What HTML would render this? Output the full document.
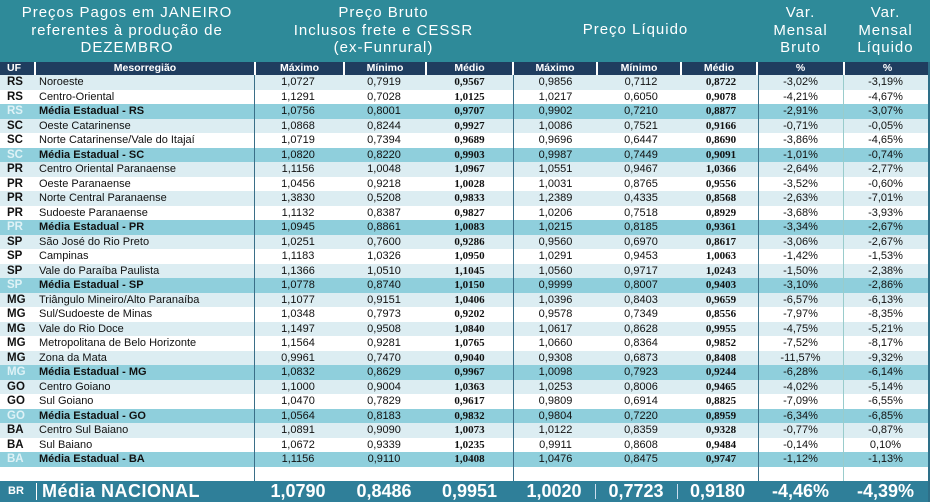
<!DOCTYPE html>
<html><head><meta charset="utf-8"><style>
*{margin:0;padding:0;box-sizing:border-box}
body{width:930px;height:502px;background:#fff;font-family:"Liberation Sans",Arial,sans-serif;position:relative;overflow:hidden}
.hdr{position:absolute;left:0;top:0;width:930px;height:62px;background:#2e8a99}
.ht{position:absolute;color:#fff;font-size:15px;text-align:center;line-height:17.5px;letter-spacing:1px;top:4px}
.row{position:absolute;left:0;width:928px;height:14.5px;font-size:11px;line-height:14.5px;color:#111}
.c{position:absolute;top:0;height:100%;text-align:center}
.uf{left:0;width:36px;font-weight:bold;text-align:left;padding-left:7px;font-size:11.5px}
.nm{left:39px;width:215px;text-align:left}
.b{font-family:"Liberation Serif",serif;font-weight:bold}
.L{background:#dcedf2}.W{background:#fff}.M{background:#8fcfdc}
.M .uf{color:#dff2f6}.M .nm{font-weight:bold}
.vl{position:absolute;width:1px;background:#3a6f88;top:75px;height:406px}
.ch{position:absolute;top:62px;height:13px;background:#1f3d5f;color:#fff;font-size:10.5px;font-weight:bold;line-height:13px;text-align:center}
.br{position:absolute;left:0;top:481px;width:928px;height:21px;background:#2f7f99;color:#fff;font-weight:bold;font-size:18px;line-height:21px}
</style></head><body>
<div class="hdr">
<div class="ht" style="left:0;width:254px">Preços Pagos em JANEIRO<br>referentes à produção de<br>DEZEMBRO</div>
<div class="ht" style="left:254px;width:259px">Preço Bruto<br>Inclusos frete e CESSR<br>(ex-Funrural)</div>
<div class="ht" style="left:513px;width:245px;top:21px">Preço Líquido</div>
<div class="ht" style="left:758px;width:85px">Var.<br>Mensal<br>Bruto</div>
<div class="ht" style="left:843px;width:85px">Var.<br>Mensal<br>Líquido</div>
</div>
<div style="position:absolute;left:0;top:62px;width:930px;height:13px;background:#fff"></div>
<div class="ch" style="left:0;width:34px;text-align:left;padding-left:7px">UF</div>
<div class="ch" style="left:36px;width:218px">Mesorregião</div>
<div class="ch" style="left:256px;width:87px">Máximo</div>
<div class="ch" style="left:345px;width:80px">Mínimo</div>
<div class="ch" style="left:427px;width:85px">Médio</div>
<div class="ch" style="left:514px;width:82px">Máximo</div>
<div class="ch" style="left:598px;width:82px">Mínimo</div>
<div class="ch" style="left:682px;width:74px">Médio</div>
<div class="ch" style="left:758px;width:85px">%</div>
<div class="ch" style="left:845px;width:85px">%</div>
<div id="rows"></div>
<script>
var d=[
["L","RS","Noroeste","1,0727","0,7919","0,9567","0,9856","0,7112","0,8722","-3,02%","-3,19%"],
["W","RS","Centro-Oriental","1,1291","0,7028","1,0125","1,0217","0,6050","0,9078","-4,21%","-4,67%"],
["M","RS","Média Estadual - RS","1,0756","0,8001","0,9707","0,9902","0,7210","0,8877","-2,91%","-3,07%"],
["L","SC","Oeste Catarinense","1,0868","0,8244","0,9927","1,0086","0,7521","0,9166","-0,71%","-0,05%"],
["W","SC","Norte Catarinense/Vale do Itajaí","1,0719","0,7394","0,9689","0,9696","0,6447","0,8690","-3,86%","-4,65%"],
["M","SC","Média Estadual - SC","1,0820","0,8220","0,9903","0,9987","0,7449","0,9091","-1,01%","-0,74%"],
["L","PR","Centro Oriental Paranaense","1,1156","1,0048","1,0967","1,0551","0,9467","1,0366","-2,64%","-2,77%"],
["W","PR","Oeste Paranaense","1,0456","0,9218","1,0028","1,0031","0,8765","0,9556","-3,52%","-0,60%"],
["L","PR","Norte Central Paranaense","1,3830","0,5208","0,9833","1,2389","0,4335","0,8568","-2,63%","-7,01%"],
["W","PR","Sudoeste Paranaense","1,1132","0,8387","0,9827","1,0206","0,7518","0,8929","-3,68%","-3,93%"],
["M","PR","Média Estadual - PR","1,0945","0,8861","1,0083","1,0215","0,8185","0,9361","-3,34%","-2,67%"],
["L","SP","São José do Rio Preto","1,0251","0,7600","0,9286","0,9560","0,6970","0,8617","-3,06%","-2,67%"],
["W","SP","Campinas","1,1183","1,0326","1,0950","1,0291","0,9453","1,0063","-1,42%","-1,53%"],
["L","SP","Vale do Paraíba Paulista","1,1366","1,0510","1,1045","1,0560","0,9717","1,0243","-1,50%","-2,38%"],
["M","SP","Média Estadual - SP","1,0778","0,8740","1,0150","0,9999","0,8007","0,9403","-3,10%","-2,86%"],
["L","MG","Triângulo Mineiro/Alto Paranaíba","1,1077","0,9151","1,0406","1,0396","0,8403","0,9659","-6,57%","-6,13%"],
["W","MG","Sul/Sudoeste de Minas","1,0348","0,7973","0,9202","0,9578","0,7349","0,8556","-7,97%","-8,35%"],
["L","MG","Vale do Rio Doce","1,1497","0,9508","1,0840","1,0617","0,8628","0,9955","-4,75%","-5,21%"],
["W","MG","Metropolitana de Belo Horizonte","1,1564","0,9281","1,0765","1,0660","0,8364","0,9852","-7,52%","-8,17%"],
["L","MG","Zona da Mata","0,9961","0,7470","0,9040","0,9308","0,6873","0,8408","-11,57%","-9,32%"],
["M","MG","Média Estadual - MG","1,0832","0,8629","0,9967","1,0098","0,7923","0,9244","-6,28%","-6,14%"],
["L","GO","Centro Goiano","1,1000","0,9004","1,0363","1,0253","0,8006","0,9465","-4,02%","-5,14%"],
["W","GO","Sul Goiano","1,0470","0,7829","0,9617","0,9809","0,6914","0,8825","-7,09%","-6,55%"],
["M","GO","Média Estadual - GO","1,0564","0,8183","0,9832","0,9804","0,7220","0,8959","-6,34%","-6,85%"],
["L","BA","Centro Sul Baiano","1,0891","0,9090","1,0073","1,0122","0,8359","0,9328","-0,77%","-0,87%"],
["W","BA","Sul Baiano","1,0672","0,9339","1,0235","0,9911","0,8608","0,9484","-0,14%","0,10%"],
["M","BA","Média Estadual - BA","1,1156","0,9110","1,0408","1,0476","0,8475","0,9747","-1,12%","-1,13%"]];
var cols=[[254,88],[342,84],[426,87],[513,85],[598,86],[684,74],[758,85],[843,85]];
var h="";
d.forEach(function(r,i){
 h+='<div class="row '+r[0]+'" style="top:'+(75+i*14.5)+'px"><div class="c uf">'+r[1]+'</div><div class="c nm">'+r[2]+'</div>';
 for(var k=0;k<8;k++){var cl=(k==2||k==5)?"c b":"c";h+='<div class="'+cl+'" style="left:'+cols[k][0]+'px;width:'+cols[k][1]+'px">'+r[3+k]+'</div>';}
 h+='</div>';});
document.getElementById("rows").innerHTML=h;
</script>
<div class="vl" style="left:254px"></div>
<div class="vl" style="left:513px"></div>
<div class="vl" style="left:758px"></div>
<div class="vl" style="left:843px;background:#9cc"></div>
<div class="vl" style="left:928px;width:2px;background:#2e6f88;top:62px;height:440px"></div>
<div class="br">
<div style="position:absolute;left:8px;font-size:11px">BR</div>
<div style="position:absolute;left:36px;top:2px;width:1px;height:17px;background:#fff"></div>
<div style="position:absolute;left:42px;letter-spacing:0.5px">Média NACIONAL</div>
<div style="position:absolute;left:254px;width:88px;text-align:center">1,0790</div>
<div style="position:absolute;left:342px;width:84px;text-align:center">0,8486</div>
<div style="position:absolute;left:426px;width:87px;text-align:center">0,9951</div>
<div style="position:absolute;left:513px;width:82px;text-align:center">1,0020</div>
<div style="position:absolute;left:595px;top:3px;width:1px;height:15px;background:#cde"></div>
<div style="position:absolute;left:595px;width:82px;text-align:center">0,7723</div>
<div style="position:absolute;left:677px;top:3px;width:1px;height:15px;background:#cde"></div>
<div style="position:absolute;left:677px;width:81px;text-align:center">0,9180</div>
<div style="position:absolute;left:758px;width:85px;text-align:center">-4,46%</div>
<div style="position:absolute;left:843px;width:85px;text-align:center">-4,39%</div>
</div>
</body></html>
